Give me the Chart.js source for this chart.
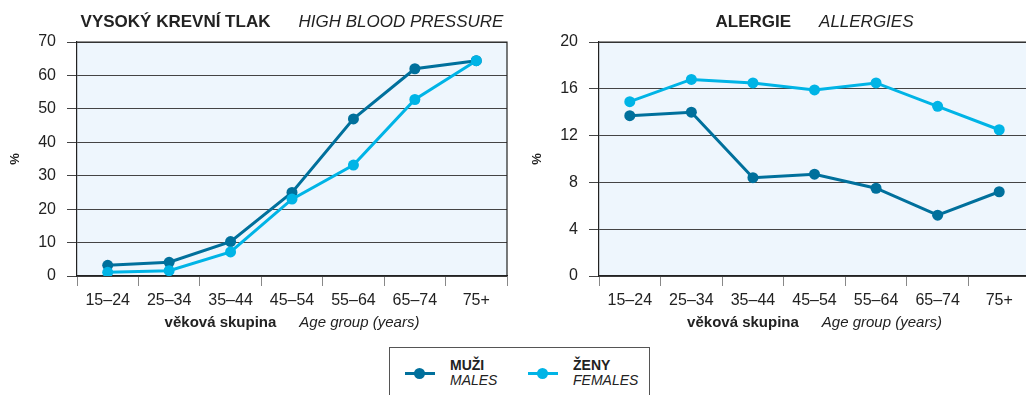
<!DOCTYPE html>
<html>
<head>
<meta charset="utf-8">
<script src="https://cdn.jsdelivr.net/npm/chart.js@4.4.0/dist/chart.umd.min.js"></script>
<style>
    body { margin: 0; background: #fff; width: 1026px; height: 395px; overflow: hidden; position: relative; font-family: "Liberation Sans", Arial, sans-serif; color: #222; }
    .wrap { position: absolute; top: 0; width: 520px; height: 340px; }
    #wrapLeft { left: 0; }
    #wrapRight { left: 520px; }
    .legend { position: absolute; left: 389px; top: 347px; width: 261px; height: 60px; border: 1px solid #555; box-sizing: border-box; }
    .mark { position: absolute; top: 24px; width: 30px; height: 3px; }
    .mark::after { content: ''; position: absolute; left: 9px; top: -4px; width: 11px; height: 11px; border-radius: 50%; background: inherit; }
    .lbl { position: absolute; top: 10px; font-size: 14px; line-height: 15px; }
    .lbl b { display: block; }
    .lbl i { display: block; }
</style>
</head>
<body>
<div class="wrap" id="wrapLeft"><canvas id="bpChart" width="520" height="340"></canvas></div>
<div class="wrap" id="wrapRight"><canvas id="alChart" width="520" height="340"></canvas></div>
<div class="legend">
    <div class="mark" style="left:15px;background:#00709c"></div>
    <div class="lbl" style="left:60px"><b>MUŽI</b><i>MALES</i></div>
    <div class="mark" style="left:138px;background:#00b4e6"></div>
    <div class="lbl" style="left:183px"><b>ŽENY</b><i>FEMALES</i></div>
</div>
<script>
const ageGroups = ['15–24', '25–34', '35–44', '45–54', '55–64', '65–74', '75+'];

const bpMales = [3.2, 4.1, 10.3, 25, 47, 62, 64.4];
const bpFemales = [1.1, 1.6, 7.2, 23, 33.2, 52.8, 64.4];

const alMales = [13.7, 14.0, 8.4, 8.7, 7.5, 5.2, 7.2];
const alFemales = [14.9, 16.8, 16.5, 15.9, 16.5, 14.5, 12.5];

const MALE_COLOR = '#00709c';
const FEMALE_COLOR = '#00b4e6';

// draws "bold part   italic part" centered on cx
function drawPair(ctx, parts, cx, y, size, gap) {
    const boldFont = `bold ${size}px "Liberation Sans", Arial, sans-serif`;
    const italFont = `italic ${size}px "Liberation Sans", Arial, sans-serif`;
    ctx.font = boldFont;
    const w1 = ctx.measureText(parts[0]).width;
    ctx.font = italFont;
    const w2 = ctx.measureText(parts[1]).width;
    let x = cx - (w1 + gap + w2) / 2;
    ctx.textAlign = 'left';
    ctx.textBaseline = 'alphabetic';
    ctx.fillStyle = '#222';
    ctx.font = boldFont;
    ctx.fillText(parts[0], x, y);
    ctx.font = italFont;
    ctx.fillText(parts[1], x + w1 + gap, y);
}

const framePlugin = {
    id: 'frame',
    beforeDraw(chart) {
        const { ctx, chartArea: a } = chart;
        ctx.save();
        ctx.fillStyle = '#eef6fd';
        ctx.fillRect(a.left, a.top, a.right - a.left, a.bottom - a.top);
        ctx.restore();
    },
    afterDraw(chart, args, opts) {
        const { ctx, chartArea: a } = chart;
        const cx = (a.left + a.right) / 2;
        ctx.save();
        ctx.strokeStyle = '#222';
        ctx.lineWidth = 1.2;
        ctx.beginPath();
        ctx.moveTo(a.left, a.top);
        ctx.lineTo(a.right, a.top);
        ctx.lineTo(a.right, a.bottom);
        ctx.stroke();

        drawPair(ctx, opts.title, cx, 27, 17, 28);
        drawPair(ctx, ['věková skupina', 'Age group (years)'], cx, 327, 15, 23);

        ctx.translate(a.left - 62, (a.top + a.bottom) / 2);
        ctx.rotate(-Math.PI / 2);
        ctx.font = 'bold 13px "Liberation Sans", Arial, sans-serif';
        ctx.textAlign = 'center';
        ctx.textBaseline = 'middle';
        ctx.fillText('%', 0, 0);
        ctx.restore();
    }
};

function makeChart(id, title, males, females, yMax, yStep, yWidth, padRight) {
    return new Chart(document.getElementById(id), {
        type: 'line',
        data: {
            labels: ageGroups,
            datasets: [
                { label: 'Muži', data: males, borderColor: MALE_COLOR, backgroundColor: MALE_COLOR, order: 2 },
                { label: 'Ženy', data: females, borderColor: FEMALE_COLOR, backgroundColor: FEMALE_COLOR, order: 1 }
            ]
        },
        options: {
            responsive: false,
            animation: false,
            layout: { padding: { left: 0, top: 42, right: padRight, bottom: 0 } },
            elements: {
                line: { borderWidth: 3, tension: 0 },
                point: { radius: 5.5, borderWidth: 0, hoverRadius: 5.5 }
            },
            plugins: {
                legend: { display: false },
                tooltip: { enabled: false },
                frame: { title: title }
            },
            scales: {
                x: {
                    offset: true,
                    grid: { drawOnChartArea: false, drawTicks: true, tickLength: 10, color: '#888', offset: true },
                    border: { display: true, color: '#222', width: 1.2 },
                    ticks: { color: '#222', font: { size: 16, family: '"Liberation Sans", Arial, sans-serif' }, padding: 5, maxRotation: 0 },
                    afterFit: s => { s.height = 64; }
                },
                y: {
                    min: 0,
                    max: yMax,
                    ticks: { stepSize: yStep, color: '#222', font: { size: 16, family: '"Liberation Sans", Arial, sans-serif' }, padding: 11 },
                    grid: { color: '#444', lineWidth: 1, tickLength: 10 },
                    border: { display: true, color: '#222', width: 1.2 },
                    afterFit: s => { s.width = yWidth; }
                }
            }
        },
        plugins: [framePlugin]
    });
}

makeChart('bpChart', ['VYSOKÝ KREVNÍ TLAK', 'HIGH BLOOD PRESSURE'], bpMales, bpFemales, 70, 10, 77, 13);
makeChart('alChart', ['ALERGIE', 'ALLERGIES'], alMales, alFemales, 20, 4, 79, 10);
</script>
</body>
</html>
